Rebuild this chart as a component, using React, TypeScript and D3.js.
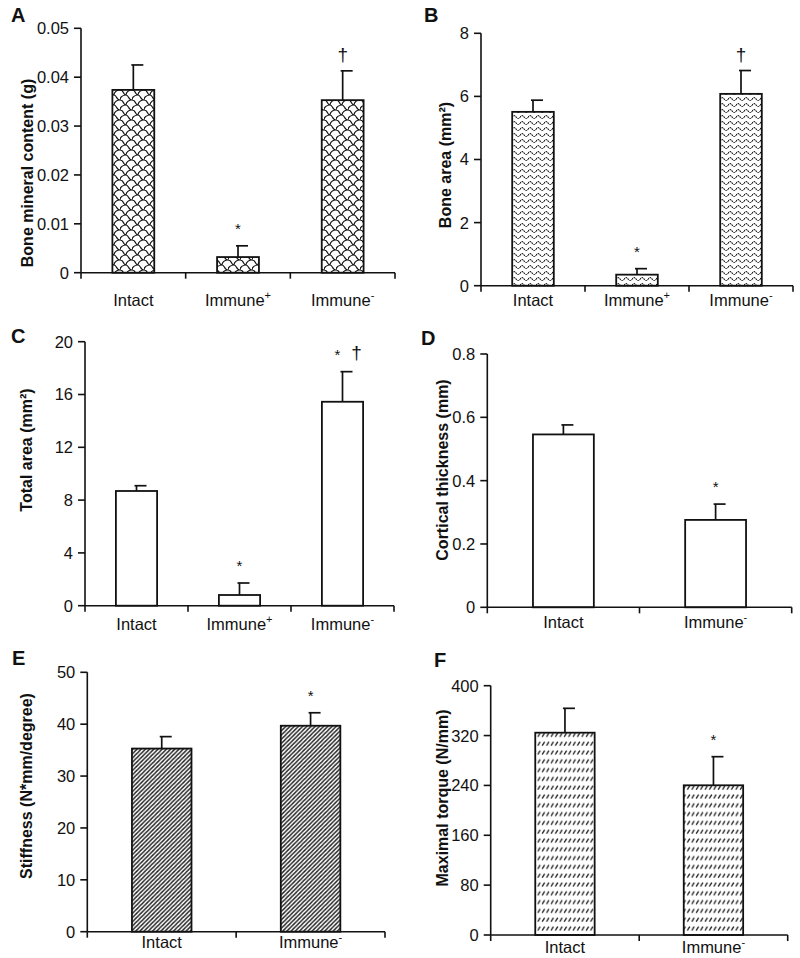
import React from "react";
import * as d3 from "d3";

// ---------- data ----------
const catsThree = ["Intact", "Immune+", "Immune-"];
const catsTwo = ["Intact", "Immune-"];

const bmcMean = [0.0374, 0.0032, 0.0353];
const bmcErr = [0.0425, 0.0055, 0.0413];
const bmcTicks = ["0", "0.01", "0.02", "0.03", "0.04", "0.05"];
const bmcMarks = ["", "*", "†"];

const boneAreaMean = [5.51, 0.35, 6.08];
const boneAreaErr = [5.88, 0.54, 6.82];
const boneAreaTicks = ["0", "2", "4", "6", "8"];
const boneAreaMarks = ["", "*", "†"];

const totalAreaMean = [8.69, 0.81, 15.45];
const totalAreaErr = [9.09, 1.72, 17.73];
const totalAreaTicks = ["0", "4", "8", "12", "16", "20"];
const totalAreaMarks = ["", "*", "*†"];

const corticalMean = [0.546, 0.276];
const corticalErr = [0.576, 0.326];
const corticalTicks = ["0", "0.2", "0.4", "0.6", "0.8"];
const corticalMarks = ["", "*"];

const stiffMean = [35.3, 39.7];
const stiffErr = [37.6, 42.2];
const stiffTicks = ["0", "10", "20", "30", "40", "50"];
const stiffMarks = ["", "*"];

const torqueMean = [324.6, 240.2];
const torqueErr = [363.7, 286.1];
const torqueTicks = ["0", "80", "160", "240", "320", "400"];
const torqueMarks = ["", "*"];

const FONT = "'Liberation Sans', Arial, Helvetica, sans-serif";

type Cfg = {
  letter: string;
  lx: number;
  ly: number;
  cats: string[];
  mean: number[];
  err: number[];
  ticks: string[];
  marks: string[];
  ylabel: string;
  labX: number;
  labY: number;
  x0: number;
  x1: number;
  yt: number;
  yb: number;
  xlabDy: number;
  fill: string;
};

const panels: Cfg[] = [
  {
    letter: "A", lx: 11, ly: 22, cats: catsThree, mean: bmcMean, err: bmcErr, ticks: bmcTicks, marks: bmcMarks,
    ylabel: "Bone mineral content (g)", labX: 33, labY: 173, x0: 81, x1: 395, yt: 28.3, yb: 272.7, xlabDy: 33, fill: "url(#patA)",
  },
  {
    letter: "B", lx: 424, ly: 22, cats: catsThree, mean: boneAreaMean, err: boneAreaErr, ticks: boneAreaTicks, marks: boneAreaMarks,
    ylabel: "Bone area (mm²)", labX: 451, labY: 165, x0: 481, x1: 793, yt: 33.3, yb: 285.7, xlabDy: 20, fill: "url(#patB)",
  },
  {
    letter: "C", lx: 11, ly: 343, cats: catsThree, mean: totalAreaMean, err: totalAreaErr, ticks: totalAreaTicks, marks: totalAreaMarks,
    ylabel: "Total area (mm²)", labX: 32, labY: 450, x0: 85, x1: 394, yt: 341.7, yb: 605.7, xlabDy: 24, fill: "#fff",
  },
  {
    letter: "D", lx: 421, ly: 345, cats: catsTwo, mean: corticalMean, err: corticalErr, ticks: corticalTicks, marks: corticalMarks,
    ylabel: "Cortical thickness (mm)", labX: 448, labY: 470, x0: 487.3, x1: 791.7, yt: 354, yb: 607.3, xlabDy: 21, fill: "#fff",
  },
  {
    letter: "E", lx: 12, ly: 665, cats: catsTwo, mean: stiffMean, err: stiffErr, ticks: stiffTicks, marks: stiffMarks,
    ylabel: "Stiffness (N*mm/degree)", labX: 32, labY: 786, x0: 87.3, x1: 385, yt: 672.3, yb: 931.7, xlabDy: 16, fill: "url(#patE)",
  },
  {
    letter: "F", lx: 434, ly: 667, cats: catsTwo, mean: torqueMean, err: torqueErr, ticks: torqueTicks, marks: torqueMarks,
    ylabel: "Maximal torque (N/mm)", labX: 448, labY: 798, x0: 490.7, x1: 787.7, yt: 685.7, yb: 935, xlabDy: 18, fill: "url(#patF)",
  },
];

function CatLabel({ name, x, y }: { name: string; x: number; y: number }) {
  const last = name[name.length - 1];
  const hasSup = last === "+" || last === "-";
  const base = hasSup ? name.slice(0, -1) : name;
  return (
    <text x={x} y={y} textAnchor="middle" fontSize={16.5} fontFamily={FONT} fill="#111">
      {base}
      {hasSup && (
        <tspan fontSize={11} dy={-7}>
          {last === "+" ? "+" : "-"}
        </tspan>
      )}
    </text>
  );
}

function Panel({ cfg }: { cfg: Cfg }) {
  const tickVals = cfg.ticks.map(Number);
  const max = tickVals[tickVals.length - 1];
  const x = d3.scaleBand<string>().domain(cfg.cats).range([cfg.x0, cfg.x1]).paddingInner(0.6).paddingOuter(0.3);
  const y = d3.scaleLinear().domain([0, max]).range([cfg.yb, cfg.yt]);
  const step = x.step();
  const bounds = d3.range(cfg.cats.length + 1).map((i) => cfg.x0 + i * step);
  const bw = x.bandwidth();
  return (
    <g>
      <text x={cfg.lx} y={cfg.ly} fontSize={20} fontWeight="bold" fontFamily={FONT} fill="#111">
        {cfg.letter}
      </text>
      <text
        transform={`translate(${cfg.labX},${cfg.labY}) rotate(-90)`}
        textAnchor="middle"
        fontSize={16}
        fontWeight="bold"
        fontFamily={FONT}
        fill="#111"
      >
        {cfg.ylabel}
      </text>
      {/* bars */}
      {cfg.cats.map((c, i) => {
        const bx = x(c)!;
        const cx = bx + bw / 2;
        const top = y(cfg.mean[i]);
        const et = y(cfg.err[i]);
        const mark = cfg.marks[i];
        return (
          <g key={c}>
            <line x1={cx} x2={cx} y1={top} y2={et} stroke="#111" strokeWidth={1.7} />
            <line x1={cx - 2} x2={cx + 10} y1={et} y2={et} stroke="#111" strokeWidth={1.7} />
            <rect x={bx} y={top} width={bw} height={cfg.yb - top} fill={cfg.fill} stroke="#111" strokeWidth={1.8} />
            {mark.includes("*") && (
              <text
                x={mark.includes("†") ? cx - 5 : cx}
                y={et - 12}
                textAnchor="middle"
                fontSize={15}
                fontFamily={FONT}
                fill="#111"
              >
                *
              </text>
            )}
            {mark.includes("†") && (
              <text
                x={mark.includes("*") ? cx + 14 : cx}
                y={mark.includes("*") ? et - 13 : et - 10}
                textAnchor="middle"
                fontSize={19}
                fontFamily={FONT}
                fill="#111"
              >
                †
              </text>
            )}
            <CatLabel name={c} x={cx} y={cfg.yb + cfg.xlabDy} />
          </g>
        );
      })}
      {/* y axis */}
      <line x1={cfg.x0} x2={cfg.x0} y1={cfg.yb} y2={cfg.yt} stroke="#111" strokeWidth={1.6} />
      {tickVals.map((v, i) => (
        <g key={i}>
          <line x1={cfg.x0 - 7} x2={cfg.x0} y1={y(v)} y2={y(v)} stroke="#111" strokeWidth={1.6} />
          <text
            x={cfg.x0 - 12}
            y={y(v)}
            dy="0.36em"
            textAnchor="end"
            fontSize={16.5}
            fontFamily={FONT}
            fill="#111"
          >
            {cfg.ticks[i]}
          </text>
        </g>
      ))}
      {/* x axis */}
      <line x1={cfg.x0} x2={cfg.x1} y1={cfg.yb} y2={cfg.yb} stroke="#111" strokeWidth={1.6} />
      {bounds.map((b, i) => (
        <line key={i} x1={b} x2={b} y1={cfg.yb} y2={cfg.yb + 6} stroke="#111" strokeWidth={1.6} />
      ))}
    </g>
  );
}

export default function App() {
  return (
    <svg
      width={800}
      height={958}
      viewBox="0 0 800 958"
      style={{ display: "block", position: "absolute", left: 0, top: 0, background: "#fff" }}
    >
      <defs>
        <pattern id="patA" width={12} height={10} patternUnits="userSpaceOnUse">
          <rect width={12} height={10} fill="#fff" />
          <path
            d="M0,0 C4,0 3,5 6,5 C9,5 8,10 12,10 M6,5 C6,2 9,0 12,0 M0,10 C0,7 3,5 6,5"
            fill="none"
            stroke="#111"
            strokeWidth={1.2}
          />
        </pattern>
        <pattern id="patB" width={8} height={6} patternUnits="userSpaceOnUse">
          <rect width={8} height={6} fill="#fff" />
          <path d="M0,3.5 C1.5,1 2.5,1 4,3 C5.5,5 6.5,5 8,3.5" fill="none" stroke="#111" strokeWidth={1.1} strokeDasharray="1.6 0.8" />
        </pattern>
        <pattern id="patE" width={4.2} height={4.2} patternUnits="userSpaceOnUse">
          <rect width={4.2} height={4.2} fill="#fff" />
          <path d="M-1,1 L1,-1 M0,4.2 L4.2,0 M3.2,5.2 L5.2,3.2" stroke="#222" strokeWidth={1.4} />
        </pattern>
        <pattern id="patF" width={4.4} height={8.8} patternUnits="userSpaceOnUse">
          <rect width={4.4} height={8.8} fill="#fff" />
          <path d="M1,6.5 L3.4,2.5" stroke="#222" strokeWidth={1.3} />
        </pattern>
      </defs>
      <rect width={800} height={958} fill="#fff" />
      {panels.map((p) => (
        <Panel key={p.letter} cfg={p} />
      ))}
    </svg>
  );
}
